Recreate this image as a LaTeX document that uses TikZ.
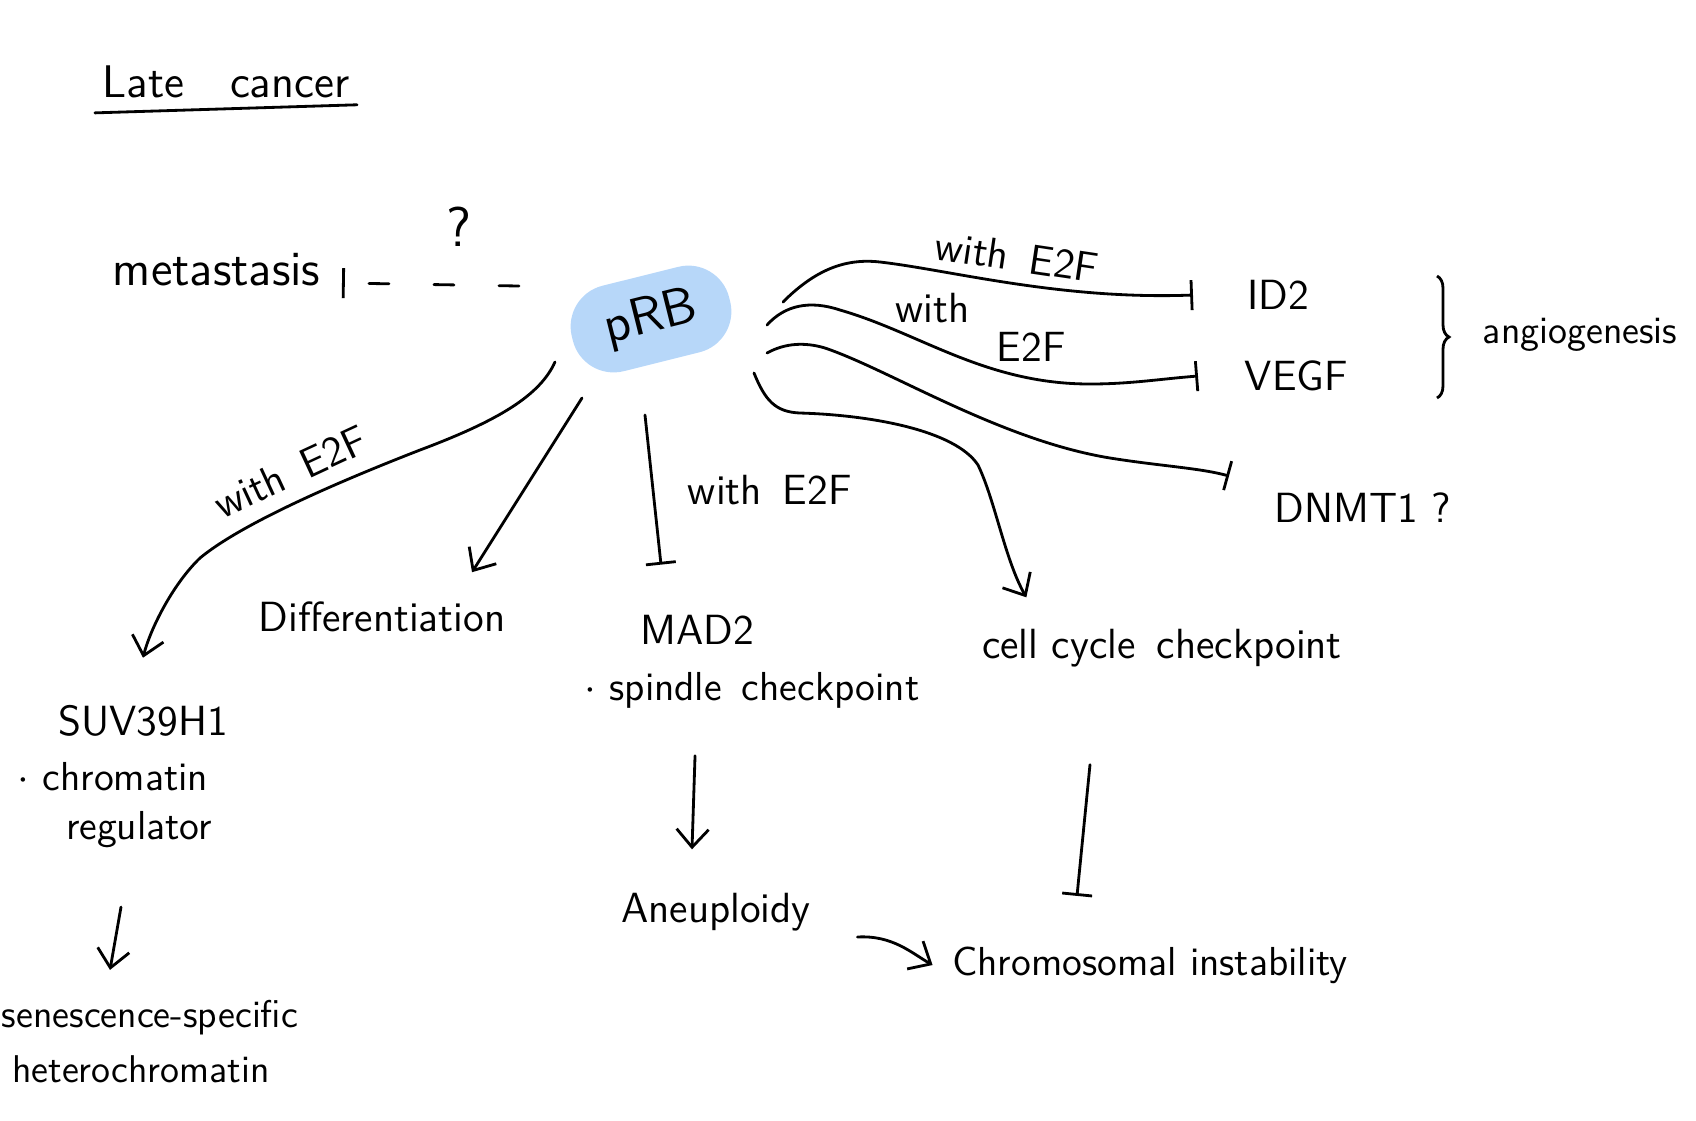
\documentclass[tikz,border=0pt]{standalone}
\usepackage{tikz}
\usetikzlibrary{positioning, arrows.meta, decorations.pathreplacing}
\definecolor{prbblue}{RGB}{183,215,249}

\begin{document}
\begin{tikzpicture}[
        x=0.01cm, y=-0.01cm,
        gene/.style={font=\sffamily\fontsize{12}{14}\selectfont, inner sep=2pt},
        note/.style={font=\sffamily\fontsize{11.5}{13}\selectfont, inner sep=2pt},
        hub/.style={fill=prbblue, rectangle, rounded corners=0.42cm, minimum width=1.62cm, minimum height=0.88cm, rotate=14, font=\sffamily\fontsize{15}{17}\selectfont},
        edge/.style={thick, line cap=round},
        activate/.style={edge, -{Straight Barb[length=1.8mm, width=3.2mm]}},
        inhibit/.style={edge, -{Bar[width=3mm]}},
        varlabel/.style={font=\sffamily\fontsize{12}{14}\selectfont, inner sep=1pt}
    ]
    \useasboundingbox (0,0) rectangle (1696,1120);

    % nodes
    \node[gene, font=\sffamily\fontsize{13}{15}\selectfont] (title) at (226,82) {Late\quad cancer};
    \node[hub] (prb) at (651,319) {pRB};
    \node[gene, font=\sffamily\fontsize{14}{16}\selectfont, anchor=east] (meta) at (328,270) {metastasis};
    \node[gene, anchor=west] (id2) at (1240,295) {ID2};
    \node[gene, anchor=west] (vegf) at (1237,376) {VEGF};
    \node[gene, anchor=west] (dnmt) at (1267,508) {DNMT1\ ?};
    \node[gene, font=\sffamily\fontsize{11}{13}\selectfont] (angio) at (1580,335) {angiogenesis};
    \node[gene] (suv) at (143,721) {SUV39H1};
    \node[note, below=0.1cm of suv, xshift=-0.3cm] (chromatin) {$\cdot$ chromatin};
    \node[note, below=0.05cm of chromatin, xshift=0.26cm] (regulator) {regulator};
    \node[gene] (diff) at (382,617) {Differentiation};
    \node[gene] (mad2) at (697,630) {MAD2};
    \node[note, below=0.12cm of mad2, xshift=0.55cm] (spindle) {$\cdot$ spindle\enspace checkpoint};
    \node[gene] (cc) at (1162,648) {cell cycle\enspace checkpoint};
    \node[gene] (aneu) at (716,912) {Aneuploidy};
    \node[gene, font=\sffamily\fontsize{11.5}{13}\selectfont] (cin) at (1150,965) {Chromosomal instability};
    \node[note, font=\sffamily\fontsize{11}{13}\selectfont] (sen) at (150,1018) {senescence-specific};
    \node[note, font=\sffamily\fontsize{11}{13}\selectfont, below=0.05cm of sen, xshift=-0.09cm] (hetero) {heterochromatin};

    % edges from pRB
    \draw[edge] ([yshift=-2pt]title.south west) -- ([yshift=0.3pt]title.south east);
    \draw[inhibit, dash pattern=on 0.2cm off 0.45cm] ([shift={(-132,-33)}]prb.center) -- ([shift={(14,13)}]meta.east) node[pos=0.34, above=0.3cm, gene, font=\sffamily\fontsize{16}{18}\selectfont] (qmark) {?};

    \draw[activate] ([shift={(-96,43)}]prb.center) .. controls (540,395) and (500,420) .. (420,450) .. controls (330,485) and (240,525) .. (200,558) node[pos=0.45, sloped, above=3pt, varlabel] {with\enspace E2F} .. controls (172,585) and (150,630) .. ([yshift=0.4cm]suv.north);

    \draw[activate] ([shift={(-69,79)}]prb.center) -- ([shift={(90,-22)}]diff.north);

    \draw[inhibit] ([shift={(-6,96)}]prb.center) -- ([shift={(-36,-43)}]mad2.north) node[midway, right=0.3cm, varlabel] {with\enspace E2F};

    \draw[inhibit] ([shift={(132,-17)}]prb.center) .. controls (815,270) and (845,258) .. (880,262) .. controls (950,270) and (1060,300) .. ([xshift=-0.47cm]id2.west) node[pos=0.5, sloped, above=2pt, varlabel] {with\enspace E2F};

    \draw[inhibit] ([shift={(116,6)}]prb.center) .. controls (785,305) and (810,300) .. (840,310) .. controls (920,333) and (985,384) .. (1090,384) node[pos=0.4, above=0.18cm, varlabel] {with} node[pos=0.8, above=0.12cm, varlabel] {E2F} .. controls (1130,384) and (1160,379) .. ([xshift=-0.39cm]vegf.west);

    \draw[inhibit] ([shift={(116,34)}]prb.center) .. controls (785,343) and (805,342) .. (825,348) .. controls (890,370) and (1000,440) .. (1110,458) .. controls (1160,466) and (1200,468) .. ([shift={(-38,-32)}]dnmt.west);

    \draw[activate] ([shift={(103,54)}]prb.center) .. controls (765,400) and (775,412) .. (800,413) .. controls (870,415) and (955,430) .. (978,465) .. controls (995,500) and (1005,560) .. ([shift={(52,-24)}]cc.north west);

    % downstream edges
    \draw[activate] ([shift={(-18,52)}]regulator.south) -- ([shift={(-40,-23)}]sen.north);
    \draw[activate] ([shift={(-57,40)}]spindle.south) -- ([shift={(-24,-36)}]aneu.north);
    \draw[inhibit] ([shift={(-72,90)}]cc.south) -- ([shift={(-73,-43)}]cin.north);
    \draw[activate] ([shift={(39,25)}]aneu.east) .. controls +(35,-2) and +(-21,-12) .. ([xshift=-0.12cm]cin.west);

    % brace
    \draw[thick, decorate, decoration={brace, amplitude=0.12cm}] (1437,276) -- (1437,398);
\end{tikzpicture}
\end{document}
